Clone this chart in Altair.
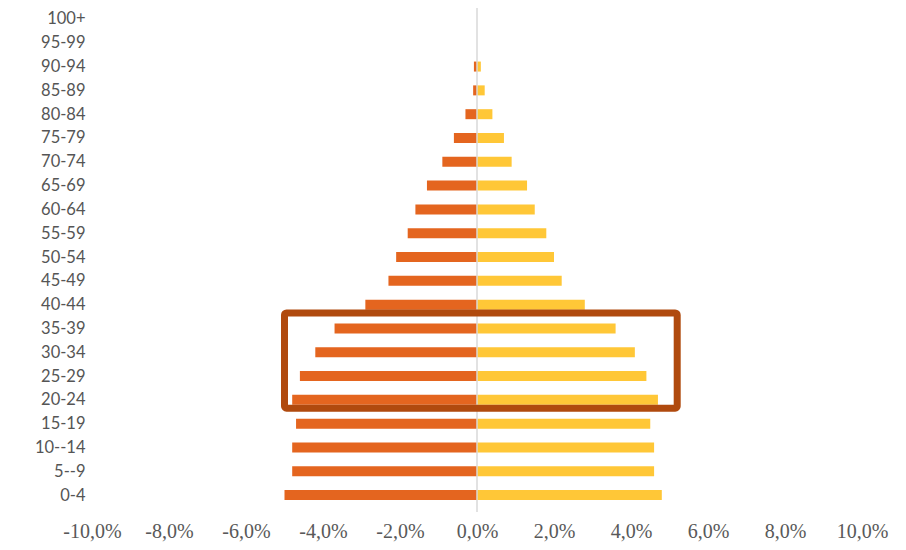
import json
import altair as alt
import pandas as pd

ages = ["0-4", "5--9", "10--14", "15-19", "20-24", "25-29", "30-34", "35-39",
        "40-44", "45-49", "50-54", "55-59", "60-64", "65-69", "70-74", "75-79",
        "80-84", "85-89", "90-94", "95-99", "100+"]
left_pct = [5.0, 4.8, 4.8, 4.7, 4.8, 4.6, 4.2, 3.7, 2.9, 2.3, 2.1, 1.8, 1.6,
            1.3, 0.9, 0.6, 0.3, 0.1, 0.08, 0.0, 0.0]
right_pct = [4.8, 4.6, 4.6, 4.5, 4.7, 4.4, 4.1, 3.6, 2.8, 2.2, 2.0, 1.8, 1.5,
             1.3, 0.9, 0.7, 0.4, 0.2, 0.1, 0.0, 0.0]
x_ticks = [-10, -8, -6, -4, -2, 0, 2, 4, 6, 8, 10]

# highlighted box (age groups 20-24 .. 35-39)
box_x = [-5.0, 5.2]
box_y = [3.65, 7.65]

rows = []
for i, a in enumerate(ages):
    rows.append({"idx": i, "age": a, "side": "left", "v": -left_pct[i], "base": 0})
    rows.append({"idx": i, "age": a, "side": "right", "v": right_pct[i], "base": 0})
df = pd.DataFrame(rows)

label_expr = json.dumps(ages) + "[datum.value]"

x_scale = alt.Scale(domain=[-10, 10], nice=False, zero=False)
y_scale = alt.Scale(domain=[-0.5, 20.25], nice=False, zero=False)

x_axis = alt.Axis(values=x_ticks, title=None, grid=False, domain=False,
                  ticks=False, labelPadding=9, labelOverlap=False,
                  labelFlush=False,
                  labelExpr="replace(replace(format(datum.value, '.1f'), '.', ','), '\u2212', '-') + '%'",
                  labelFont="Liberation Serif", labelFontSize=20,
                  labelColor="#595959")
y_axis = alt.Axis(values=list(range(len(ages))), title=None, grid=False,
                  domain=False, ticks=False, labelPadding=7,
                  labelOverlap=False, labelFlush=False,
                  labelExpr=label_expr, labelFont="Lato",
                  labelFontSize=16.5, labelColor="#555555")

bars = alt.Chart(df).mark_bar(size=10, orient="horizontal").encode(
    x=alt.X("v:Q", scale=x_scale, stack=None, axis=x_axis),
    x2="base:Q",
    y=alt.Y("idx:Q", scale=y_scale, axis=y_axis),
    color=alt.Color("side:N", legend=None,
                    scale=alt.Scale(domain=["left", "right"],
                                    range=["#E4651F", "#FFC737"])),
)

zero_df = pd.DataFrame({"x": [0]})
zero_rule = alt.Chart(zero_df).mark_rule(color="#d9d9d9", strokeWidth=1.5).encode(
    x=alt.X("x:Q", scale=x_scale, axis=x_axis)
)

box_df = pd.DataFrame({"x1": [box_x[0]], "x2": [box_x[1]],
                       "y1": [box_y[0]], "y2": [box_y[1]]})
box = alt.Chart(box_df).mark_rect(fillOpacity=0, stroke="#B04A0E",
                                  strokeWidth=7, cornerRadius=2).encode(
    x=alt.X("x1:Q", scale=x_scale, axis=x_axis), x2="x2:Q",
    y=alt.Y("y1:Q", scale=y_scale, axis=y_axis), y2="y2:Q",
)

chart = alt.layer(bars, zero_rule, box).properties(
    width=770, height=504,
    autosize=alt.AutoSizeParams(type="none"),
    padding={"left": 84, "top": 0, "right": 30, "bottom": 30},
).configure_view(stroke=None)

chart.save("out.html", embed_options={"renderer": "svg", "actions": False})
